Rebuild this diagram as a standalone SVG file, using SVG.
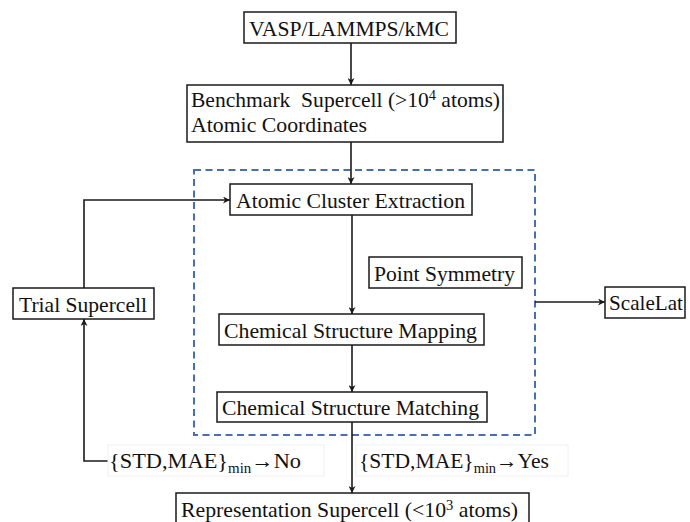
<svg xmlns="http://www.w3.org/2000/svg" width="690" height="522" viewBox="0 0 690 522">
  <style>
    .box { fill: #ffffff; stroke: #1a1a1a; stroke-width: 1.5; }
    .lbl { font-family: "Liberation Serif", "Times New Roman", serif; font-size: 21px; fill: #111111; }
    .sup { font-size: 14px; }
    .sub { font-size: 14px; }
    .wire { fill: none; stroke: #1a1a1a; stroke-width: 1.6; }
    .group { fill: none; stroke: #4a6fae; stroke-width: 2; stroke-dasharray: 7 4.5; }
    .tag { fill: #ffffff; stroke: #f0f0f0; stroke-width: 1; }
  </style>
  <defs>
    <marker id="arrow" viewBox="0 0 10 10" refX="10" refY="5" markerWidth="7" markerHeight="7" markerUnits="userSpaceOnUse" orient="auto">
      <path d="M0,0 L10,5 L0,10 L3,5 Z" fill="#1a1a1a"/>
    </marker>
  </defs>

  <rect width="690" height="522" fill="#ffffff"/>

  <!-- dashed grouping frame -->
  <rect id="cluster-frame" class="group" x="194" y="170" width="341" height="265"/>

  <!-- connectors -->
  <g id="connectors">
    <line class="wire" x1="351" y1="43" x2="351" y2="85" marker-end="url(#arrow)"/>
    <line class="wire" x1="351" y1="142" x2="351" y2="184" marker-end="url(#arrow)"/>
    <line class="wire" x1="352" y1="215" x2="352" y2="314" marker-end="url(#arrow)"/>
    <line class="wire" x1="352" y1="345" x2="352" y2="392" marker-end="url(#arrow)"/>
    <line class="wire" x1="352" y1="422" x2="352" y2="493" marker-end="url(#arrow)"/>
    <line class="wire" x1="535" y1="302" x2="605" y2="302" marker-end="url(#arrow)"/>
    <polyline class="wire" points="108,461 84,461 84,319" marker-end="url(#arrow)"/>
    <polyline class="wire" points="84,288 84,200 230,200" marker-end="url(#arrow)"/>
  </g>

  <g id="vasp">
    <rect class="box" x="244" y="12" width="212" height="31"/>
    <text class="lbl" x="249" y="35.5" textLength="200" lengthAdjust="spacingAndGlyphs">VASP/LAMMPS/kMC</text>
  </g>

  <g id="benchmark">
    <rect class="box" x="187" y="85" width="316" height="57"/>
    <text class="lbl" x="191" y="107" xml:space="preserve" textLength="309" lengthAdjust="spacingAndGlyphs">Benchmark  Supercell (&gt;10<tspan class="sup" dy="-7">4</tspan><tspan dy="7"> atoms)</tspan></text>
    <text class="lbl" x="191" y="132" textLength="176" lengthAdjust="spacingAndGlyphs">Atomic Coordinates</text>
  </g>

  <g id="cluster-extraction">
    <rect class="box" x="230" y="184" width="242" height="31"/>
    <text class="lbl" x="236" y="208" textLength="229" lengthAdjust="spacingAndGlyphs">Atomic Cluster Extraction</text>
  </g>

  <g id="point-symmetry">
    <rect class="box" x="369" y="257" width="153" height="31"/>
    <text class="lbl" x="374" y="281" textLength="141" lengthAdjust="spacingAndGlyphs">Point Symmetry</text>
  </g>

  <g id="structure-mapping">
    <rect class="box" x="219" y="314" width="265" height="31"/>
    <text class="lbl" x="224" y="338" textLength="253" lengthAdjust="spacingAndGlyphs">Chemical Structure Mapping</text>
  </g>

  <g id="structure-matching">
    <rect class="box" x="217" y="392" width="270" height="30"/>
    <text class="lbl" x="222" y="415" textLength="257" lengthAdjust="spacingAndGlyphs">Chemical Structure Matching</text>
  </g>

  <g id="trial-supercell">
    <rect class="box" x="13" y="288" width="141" height="31"/>
    <text class="lbl" x="19" y="312" textLength="128" lengthAdjust="spacingAndGlyphs">Trial Supercell</text>
  </g>

  <g id="scalelat">
    <rect class="box" x="605" y="287" width="80" height="31"/>
    <text class="lbl" x="609" y="310" textLength="74" lengthAdjust="spacingAndGlyphs">ScaleLat</text>
  </g>

  <g id="representation">
    <rect class="box" x="176" y="493" width="353" height="34"/>
    <text class="lbl" x="181" y="517" textLength="337" lengthAdjust="spacingAndGlyphs">Representation Supercell (&lt;10<tspan class="sup" dy="-7">3</tspan><tspan dy="7"> atoms)</tspan></text>
  </g>

  <g id="cond-no">
    <rect class="tag" x="108" y="445" width="216" height="31"/>
    <text class="lbl" x="109" y="468" textLength="192" lengthAdjust="spacingAndGlyphs">{STD,MAE}<tspan class="sub" dy="5">min</tspan><tspan dy="-5">→No</tspan></text>
  </g>

  <g id="cond-yes">
    <rect class="tag" x="356" y="445" width="212" height="31"/>
    <text class="lbl" x="359" y="468" textLength="190" lengthAdjust="spacingAndGlyphs">{STD,MAE}<tspan class="sub" dy="5">min</tspan><tspan dy="-5">→Yes</tspan></text>
  </g>
</svg>
